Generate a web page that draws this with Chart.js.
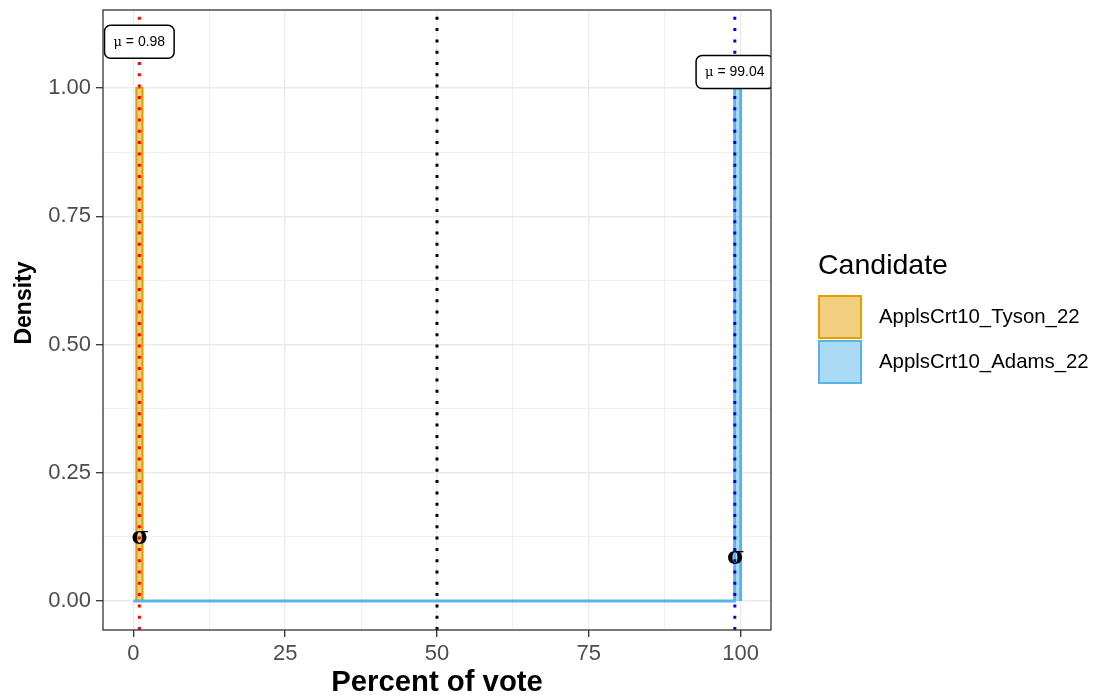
<!DOCTYPE html>
<html>
<head>
<meta charset="utf-8">
<script src="https://cdn.jsdelivr.net/npm/chart.js@4/dist/chart.umd.min.js"></script>
<style>
  html, body { margin: 0; padding: 0; background: #fff; }
  #wrap { position: relative; width: 1120px; height: 700px; }
  #legend { position: absolute; left: 818px; top: 248px; font-family: "Liberation Sans", Arial, sans-serif; color: #000; }
  #legend .title { font-size: 28.5px; height: 46px; }
  #legend .item { display: flex; align-items: center; height: 45px; font-size: 20.4px; }
  #legend .box { width: 40px; height: 40px; border: 2px solid; margin-right: 17px; }
</style>
</head>
<body>
<div id="wrap">
  <canvas id="chart" width="1120" height="700"></canvas>
  <div id="legend"></div>
</div>
<script>
// Data
const candidates = ['ApplsCrt10_Tyson_22', 'ApplsCrt10_Adams_22'];
const fillColors = ['rgba(230,159,0,0.5)', 'rgba(86,180,233,0.5)'];
const lineColors = ['#E69F00', '#56B4E9'];
const muColors = ['#FF0000', '#0000FF'];

// density outlines (percent, density)
const tysonX = [0.5, 0.5, 1.5, 1.5];
const tysonY = [0, 1.0, 1.0, 0];
const adamsX = [0, 99, 99, 100, 100];
const adamsY = [0, 0, 1.0, 1.0, 0];

// means, sigma markers and label heights
const muValues = [0.98, 99.04];
const muLabelY = [1.09, 1.031];
const sigmaY = [0.12, 0.08];
const midLine = 50;

// axes
const xLimits = [-5, 105];
const yLimits = [-0.0565, 1.152];
const xMajor = [0, 25, 50, 75, 100];
const xMinor = [12.5, 37.5, 62.5, 87.5];
const xTickLabels = ['0', '25', '50', '75', '100'];
const yMajor = [0, 0.25, 0.5, 0.75, 1.0];
const yMinor = [0.125, 0.375, 0.625, 0.875];
const yTickLabels = ['0.00', '0.25', '0.50', '0.75', '1.00'];

const toPoints = (xs, ys) => xs.map((v, i) => ({ x: v, y: ys[i] }));
const vline = (v) => [{ x: v, y: yLimits[0] }, { x: v, y: yLimits[1] }];

const datasets = [
    { label: candidates[0], data: toPoints(tysonX, tysonY), fill: 'origin', backgroundColor: fillColors[0], borderColor: lineColors[0], borderWidth: 2.2, order: 3 },
    { label: candidates[1], data: toPoints(adamsX, adamsY), fill: 'origin', backgroundColor: fillColors[1], borderColor: lineColors[1], borderWidth: 2.8, order: 2 },
    { label: 'mu1', data: vline(muValues[0]), borderColor: muColors[0], borderWidth: 3, borderDash: [3, 8.3], fill: false, order: 1 },
    { label: 'mu2', data: vline(muValues[1]), borderColor: muColors[1], borderWidth: 3, borderDash: [3, 8.3], fill: false, order: 1 },
    { label: 'mid', data: vline(midLine), borderColor: '#000', borderWidth: 3, borderDash: [3, 8.3], fill: false, order: 1 }
];

const font = '"Liberation Sans", Arial, sans-serif';
const isMajor = (list, v) => list.some(m => Math.abs(m - v) < 1e-9);

// sigma marks, mean labels, panel border and y title
const annotate = {
    id: 'annotate',
    afterDatasetsDraw(chart) {
        const { ctx, chartArea: a, scales: { x, y } } = chart;
        ctx.save();
        ctx.beginPath();
        ctx.rect(a.left, a.top, a.width, a.height);
        ctx.clip();

        ctx.fillStyle = '#000';
        ctx.textAlign = 'center';
        ctx.textBaseline = 'middle';
        ctx.font = 'bold 24px "DejaVu Serif", serif';
        muValues.forEach((m, i) => ctx.fillText('σ', x.getPixelForValue(m) + 1, y.getPixelForValue(sigmaY[i]) - 2));

        muValues.forEach((m, i) => {
            const cx = x.getPixelForValue(m);
            const cy = y.getPixelForValue(muLabelY[i]);
            ctx.font = '13px "DejaVu Serif", serif';
            const w1 = ctx.measureText('μ').width;
            const rest = ' = ' + m.toFixed(2);
            ctx.font = '14px ' + font;
            const w2 = ctx.measureText(rest).width;
            const w = w1 + w2 + 18, h = 33;
            ctx.beginPath();
            ctx.roundRect(cx - w / 2, cy - h / 2, w, h, 6);
            ctx.fillStyle = '#fff';
            ctx.fill();
            ctx.lineWidth = 1.5;
            ctx.strokeStyle = '#000';
            ctx.stroke();
            ctx.fillStyle = '#000';
            ctx.textAlign = 'left';
            ctx.font = '13px "DejaVu Serif", serif';
            ctx.fillText('μ', cx - w / 2 + 9, cy + 1);
            ctx.font = '14px ' + font;
            ctx.fillText(rest, cx - w / 2 + 9 + w1, cy);
        });
        ctx.restore();

        ctx.save();
        ctx.strokeStyle = '#333333';
        ctx.lineWidth = 1.3;
        ctx.strokeRect(a.left, a.top, a.width, a.height);

        // y axis title, sits a little above the panel middle like the reference
        ctx.translate(25, (a.top + a.bottom) / 2 - 17);
        ctx.rotate(-Math.PI / 2);
        ctx.font = 'bold 23px ' + font;
        ctx.fillStyle = '#000';
        ctx.textAlign = 'center';
        ctx.textBaseline = 'middle';
        ctx.fillText('Density', 0, 0);
        ctx.restore();
    }
};

const ctx = document.getElementById('chart').getContext('2d');
const chart = new Chart(ctx, {
    type: 'line',
    data: { datasets: datasets },
    options: {
        responsive: false,
        animation: false,
        devicePixelRatio: 1,
        layout: { padding: { left: 0, top: 10, right: 349, bottom: 0 } },
        elements: { point: { radius: 0 }, line: { tension: 0 } },
        plugins: { legend: { display: false }, tooltip: { enabled: false } },
        scales: {
            x: {
                type: 'linear',
                min: xLimits[0],
                max: xLimits[1],
                afterBuildTicks: s => { s.ticks = [...xMajor, ...xMinor].sort((a, b) => a - b).map(v => ({ value: v })); },
                afterFit: s => { s.height = 70; s.paddingLeft = 0; s.paddingRight = 0; },
                ticks: {
                    autoSkip: false, maxRotation: 0, padding: 4, color: '#4D4D4D',
                    font: { family: font, size: 22 },
                    callback: v => { const i = xMajor.findIndex(m => Math.abs(m - v) < 1e-9); return i >= 0 ? xTickLabels[i] : ''; }
                },
                grid: {
                    color: '#EBEBEB',
                    lineWidth: c => isMajor(xMajor, c.tick.value) ? 1.4 : 0.8,
                    tickColor: c => isMajor(xMajor, c.tick.value) ? '#333333' : 'rgba(0,0,0,0)',
                    tickLength: 7,
                    tickWidth: 1.3
                },
                border: { display: false },
                title: { display: true, text: 'Percent of vote', color: '#000', padding: { top: 0, bottom: 0 }, font: { family: font, size: 29.3, weight: 'bold' } }
            },
            y: {
                type: 'linear',
                min: yLimits[0],
                max: yLimits[1],
                afterBuildTicks: s => { s.ticks = [...yMajor, ...yMinor].sort((a, b) => a - b).map(v => ({ value: v })); },
                afterFit: s => { s.width = 103; s.paddingTop = 0; s.paddingBottom = 0; },
                ticks: {
                    autoSkip: false, padding: 5, color: '#4D4D4D',
                    font: { family: font, size: 22 },
                    callback: v => { const i = yMajor.findIndex(m => Math.abs(m - v) < 1e-9); return i >= 0 ? yTickLabels[i] : ''; }
                },
                grid: {
                    color: '#EBEBEB',
                    lineWidth: c => isMajor(yMajor, c.tick.value) ? 1.4 : 0.8,
                    tickColor: c => isMajor(yMajor, c.tick.value) ? '#333333' : 'rgba(0,0,0,0)',
                    tickLength: 7,
                    tickWidth: 1.3
                },
                border: { display: false },
                title: { display: false }
            }
        }
    },
    plugins: [annotate]
});

// legend
const legend = document.getElementById('legend');
let html = '<div class="title">Candidate</div>';
candidates.forEach((c, i) => {
    html += '<div class="item"><div class="box" style="background:' + fillColors[i] + ';border-color:' + lineColors[i] + '"></div>' + c + '</div>';
});
legend.innerHTML = html;
</script>
</body>
</html>
